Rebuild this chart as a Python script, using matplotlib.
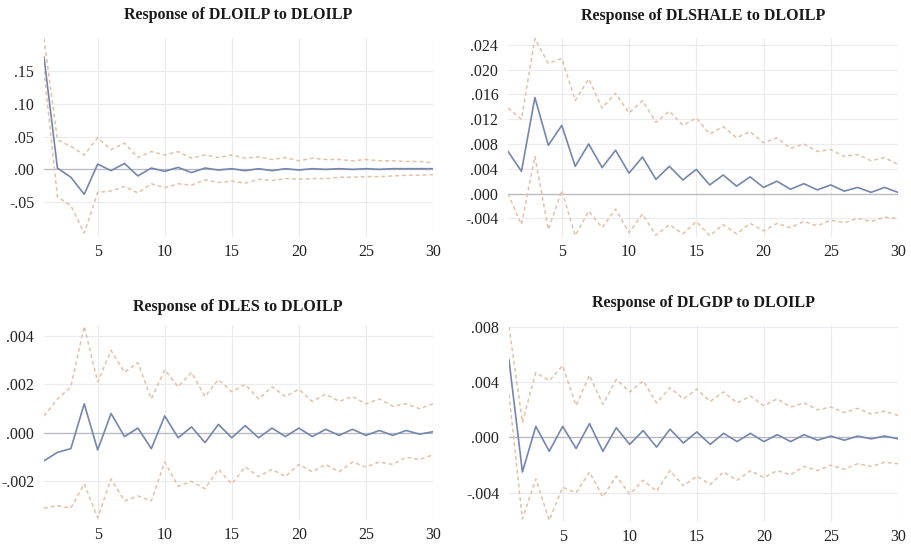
import numpy as np
import matplotlib
matplotlib.use("Agg")
import matplotlib.pyplot as plt
from matplotlib.ticker import FuncFormatter

##### DATA #####
periods = list(range(1, 31))

titles = ["Response of DLOILP to DLOILP", "Response of DLSHALE to DLOILP",
          "Response of DLES to DLOILP", "Response of DLGDP to DLOILP"]

oil_resp = [0.171, 0.002, -0.012, -0.038, 0.008, -0.002, 0.009, -0.010, 0.002, -0.003,
            0.003, -0.005, 0.002, -0.001, 0.001, -0.002, 0.001, -0.002, 0.001, -0.001,
            0.001, 0.000, 0.001, 0.000, 0.001, 0.000, 0.001, 0.001, 0.001, 0.001]
oil_hi = [0.199, 0.045, 0.035, 0.022, 0.048, 0.030, 0.040, 0.018, 0.027, 0.022,
          0.027, 0.017, 0.022, 0.018, 0.022, 0.017, 0.019, 0.015, 0.018, 0.013,
          0.017, 0.015, 0.015, 0.013, 0.015, 0.013, 0.013, 0.012, 0.012, 0.010]
oil_lo = [0.150, -0.042, -0.055, -0.097, -0.035, -0.033, -0.026, -0.036, -0.022, -0.028,
          -0.022, -0.024, -0.016, -0.020, -0.018, -0.021, -0.015, -0.017, -0.014, -0.015,
          -0.014, -0.014, -0.012, -0.012, -0.011, -0.011, -0.010, -0.009, -0.009, -0.008]

shale_resp = [0.0068, 0.0036, 0.0155, 0.0078, 0.0110, 0.0044, 0.0080, 0.0042, 0.0070, 0.0033,
              0.0059, 0.0023, 0.0044, 0.0022, 0.0039, 0.0014, 0.0030, 0.0012, 0.0027, 0.0010,
              0.0020, 0.0007, 0.0016, 0.0006, 0.0014, 0.0004, 0.0010, 0.0002, 0.0010, 0.0002]
shale_hi = [0.0138, 0.0120, 0.0250, 0.0210, 0.0218, 0.0150, 0.0185, 0.0138, 0.0162, 0.0130,
            0.0150, 0.0115, 0.0133, 0.0110, 0.0122, 0.0096, 0.0108, 0.0090, 0.0100, 0.0082,
            0.0090, 0.0073, 0.0080, 0.0068, 0.0071, 0.0060, 0.0063, 0.0053, 0.0058, 0.0047]
shale_lo = [0.0000, -0.0050, 0.0060, -0.0058, 0.0005, -0.0068, -0.0028, -0.0055, -0.0025, -0.0063,
            -0.0033, -0.0067, -0.0050, -0.0065, -0.0045, -0.0068, -0.0050, -0.0065, -0.0048, -0.0060,
            -0.0048, -0.0055, -0.0045, -0.0052, -0.0043, -0.0047, -0.0040, -0.0045, -0.0038, -0.0040]

es_resp = [-0.00115, -0.0008, -0.00065, 0.0012, -0.0007, 0.0008, -0.00015, 0.0002, -0.00065, 0.0007,
           -0.0002, 0.00025, -0.0004, 0.00035, -0.0002, 0.0003, -0.0002, 0.0002, -0.00015, 0.0002,
           -0.00015, 0.00015, -0.0001, 0.00015, -0.0001, 0.0001, -0.0001, 0.0001, -0.00005, 0.00005]
es_hi = [0.0007, 0.0014, 0.0019, 0.0044, 0.0021, 0.0034, 0.0025, 0.0029, 0.0014, 0.0026,
         0.0019, 0.0025, 0.0015, 0.0022, 0.0017, 0.0020, 0.0014, 0.0019, 0.0015, 0.0018,
         0.0013, 0.0016, 0.0013, 0.0015, 0.0012, 0.0014, 0.0011, 0.0012, 0.0010, 0.0012]
es_lo = [-0.0031, -0.0030, -0.0031, -0.0021, -0.0035, -0.0019, -0.0028, -0.0026, -0.0028, -0.0012,
         -0.0022, -0.0020, -0.0023, -0.0015, -0.0021, -0.0014, -0.0018, -0.0015, -0.0018, -0.0013,
         -0.0016, -0.0013, -0.0016, -0.0012, -0.0014, -0.0012, -0.0013, -0.0010, -0.0011, -0.0009]

gdp_resp = [0.0056, -0.0025, 0.0008, -0.0010, 0.0008, -0.0008, 0.0010, -0.0010, 0.0007, -0.0005,
            0.0005, -0.0007, 0.0006, -0.0004, 0.0004, -0.0005, 0.0003, -0.0003, 0.0003, -0.0003,
            0.0002, -0.0003, 0.0002, -0.0002, 0.0001, -0.0002, 0.0001, -0.0001, 0.0001, -0.0001]
gdp_hi = [0.0080, 0.0011, 0.0047, 0.0041, 0.0052, 0.0023, 0.0045, 0.0024, 0.0042, 0.0033,
          0.0041, 0.0025, 0.0036, 0.0028, 0.0035, 0.0026, 0.0033, 0.0025, 0.0030, 0.0023,
          0.0028, 0.0022, 0.0025, 0.0020, 0.0022, 0.0018, 0.0021, 0.0017, 0.0019, 0.0016]
gdp_lo = [0.0031, -0.0059, -0.0030, -0.0060, -0.0036, -0.0040, -0.0025, -0.0043, -0.0028, -0.0041,
          -0.0031, -0.0039, -0.0024, -0.0035, -0.0028, -0.0034, -0.0025, -0.0031, -0.0024, -0.0029,
          -0.0024, -0.0027, -0.0021, -0.0024, -0.0020, -0.0023, -0.0019, -0.0021, -0.0018, -0.0019]

yticks = [[-0.05, 0.0, 0.05, 0.10, 0.15],
          [-0.004, 0.0, 0.004, 0.008, 0.012, 0.016, 0.020, 0.024],
          [-0.002, 0.0, 0.002, 0.004],
          [-0.004, 0.0, 0.004, 0.008]]
ydec = [2, 3, 3, 3]
ylims = [(-0.103, 0.200), (-0.0070, 0.0251), (-0.00359, 0.00445), (-0.00612, 0.00814)]
xticks = [5, 10, 15, 20, 25, 30]

series = [(oil_resp, oil_hi, oil_lo), (shale_resp, shale_hi, shale_lo),
          (es_resp, es_hi, es_lo), (gdp_resp, gdp_hi, gdp_lo)]

##### LAYOUT (pixels) #####
W, H = 911, 545
# left, right, top, bottom in pixels
boxes = [(44, 433, 38, 237), (508, 898, 38, 237),
         (44, 433, 325, 520), (509, 898, 325, 522)]
# title centre positions in pixels
title_pos = [(238, 15), (703, 16), (238, 307), (703, 303)]

plt.rcParams['font.family'] = ['Liberation Serif', 'DejaVu Serif']

fig = plt.figure(figsize=(W / 100, H / 100), dpi=100)
fig.patch.set_facecolor('white')

blue = '#7586ad'
band = '#e4c0a6'

def fmt(dec):
    def f(v, pos):
        s = f"{v:.{dec}f}"
        if s.startswith("0.") or s.startswith("-0."):
            s = s.replace("0.", ".", 1)
        return s
    return FuncFormatter(f)

for i in range(4):
    l, r, t, b = boxes[i]
    ax = fig.add_axes([l / W, 1 - b / H, (r - l) / W, (b - t) / H])
    resp, hi, lo = series[i]
    ax.axhline(0, color='#b8b8c2', lw=0.9, zorder=1)
    ax.plot(periods, hi, color=band, lw=1.1, ls=(0, (2.5, 2)), zorder=2)
    ax.plot(periods, lo, color=band, lw=1.1, ls=(0, (2.5, 2)), zorder=2)
    ax.plot(periods, resp, color=blue, lw=1.2, zorder=3)
    ax.set_xlim(1, 30)
    ax.set_ylim(*ylims[i])
    ax.set_xticks(xticks)
    ax.set_yticks(yticks[i])
    ax.yaxis.set_major_formatter(fmt(ydec[i]))
    ax.grid(True, color='#ebebef', lw=0.8)
    ax.set_axisbelow(True)
    for s in ax.spines.values():
        s.set_visible(False)
    ax.tick_params(axis='x', length=0, labelsize=11.5, colors='#222222', pad=5)
    ax.tick_params(axis='y', length=0, labelsize=11.5, colors='#222222', pad=7)
    tx, ty = title_pos[i]
    fig.text(tx / W, 1 - ty / H, titles[i], ha='center', va='center',
             fontsize=11.5, fontweight='bold', color='#1a1a1a')

fig.savefig('out.png', dpi=100, facecolor='white')
